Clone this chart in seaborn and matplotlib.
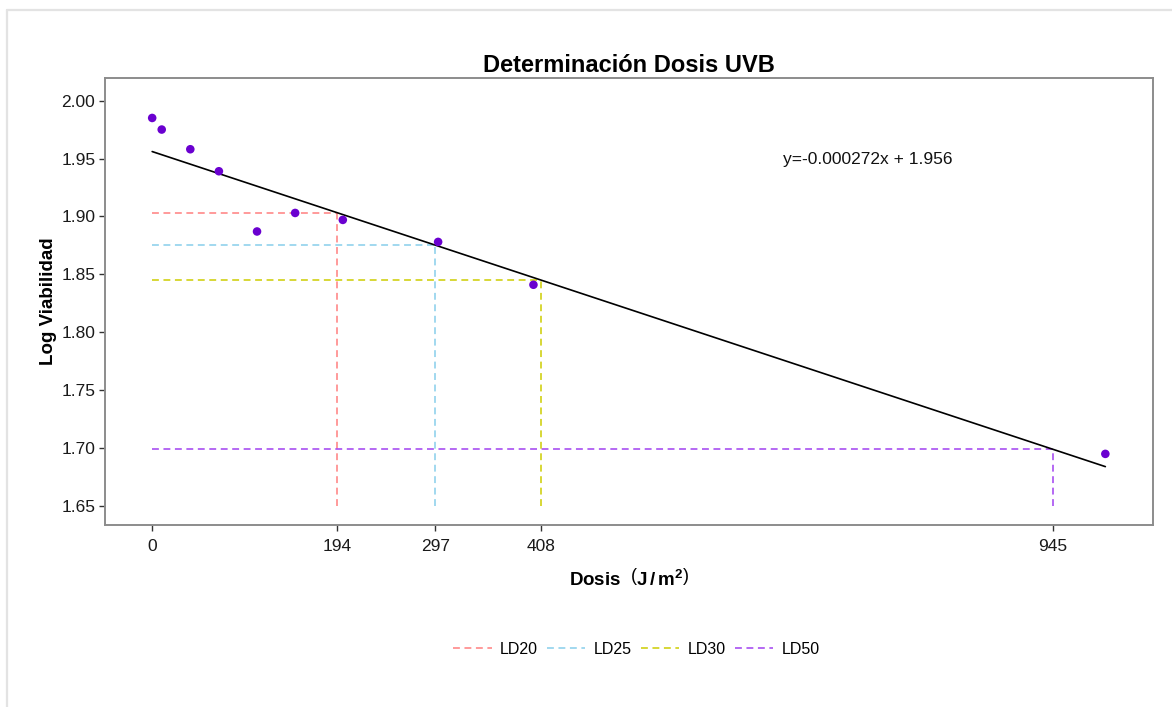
import numpy as np
import pandas as pd
import matplotlib
matplotlib.use("Agg")
import matplotlib.pyplot as plt
from matplotlib.lines import Line2D
import seaborn as sns

# ---- data ----
dosis = [0, 10, 40, 70, 110, 150, 200, 300, 400, 1000]
log_viab = [1.985, 1.975, 1.958, 1.939, 1.887, 1.903, 1.897, 1.878, 1.841, 1.695]
slope = -0.000272
intercept = 1.956
ld_names = ["LD20", "LD25", "LD30", "LD50"]
ld_dose = [194, 297, 408, 945]
ld_logv = [1.903, 1.875, 1.845, 1.699]
ld_colors = ["#FF7F7F", "#87CEEB", "#CDCD00", "#A040F0"]
x_ticks = [0, 194, 297, 408, 945]
y_ticks = [1.65, 1.70, 1.75, 1.80, 1.85, 1.90, 1.95, 2.00]
y_floor = 1.65

sns.set_theme(style="white")
plt.rcParams['font.family'] = ['Liberation Sans', 'DejaVu Sans']
plt.rcParams['text.color'] = 'black'
plt.rcParams['axes.labelcolor'] = 'black'
plt.rcParams['mathtext.fontset'] = 'custom'
plt.rcParams['mathtext.rm'] = 'Liberation Sans'
plt.rcParams['mathtext.bf'] = 'Liberation Sans:bold'
plt.rcParams['mathtext.it'] = 'Liberation Sans:bold'

fig = plt.figure(figsize=(11.72, 7.07), dpi=100)
ax = fig.add_axes([105/1172, 1-525/707, (1153-105)/1172, (525-78)/707])

df = pd.DataFrame({"Dosis": dosis, "LogV": log_viab})
fit = pd.DataFrame({"Dosis": [min(dosis), max(dosis)]})
fit["LogV"] = intercept + slope * fit["Dosis"]

dash = (4.5, 3)
for name, xd, yd, c in zip(ld_names, ld_dose, ld_logv, ld_colors):
    ax.plot([0, xd], [yd, yd], color=c, lw=1.1, dashes=dash, zorder=2)
    ax.plot([xd, xd], [y_floor, yd], color=c, lw=1.1, dashes=dash, zorder=2)

sns.lineplot(data=fit, x="Dosis", y="LogV", color="black", lw=1.2, ax=ax, zorder=3)
sns.scatterplot(data=df, x="Dosis", y="LogV", color="#6A00D0", s=38, edgecolor="none",
                ax=ax, zorder=4)

ax.text(751, 1.949, "y=-0.000272x + 1.956", ha="center", va="center", fontsize=12.5,
        color="#111111")

ax.set_xlim(-49.5, 1050)
ax.set_ylim(1.6336, 2.0195)
ax.set_xticks(x_ticks)
ax.set_xticklabels([str(v) for v in x_ticks])
ax.set_yticks(y_ticks)
ax.set_yticklabels([f"{v:.2f}" for v in y_ticks])
ax.tick_params(axis="both", which="both", length=4, width=1, color="#333333",
               labelsize=12.5, labelcolor="#1a1a1a", left=True, bottom=True)
ax.tick_params(axis="x", pad=6)
ax.tick_params(axis="y", pad=3)
for s in ax.spines.values():
    s.set_color("#8c8c8c")
    s.set_linewidth(1.4)

ax.set_title("Determinación Dosis UVB", fontsize=17, fontweight="bold", pad=4,
             color="black")
ax.set_xlabel(r"Dosis  $\left(\mathbf{J\,/\,m^{2}}\right)$", fontsize=13.5, fontweight="bold",
              labelpad=10)
ax.set_ylabel("Log Viabilidad", fontsize=13.5, fontweight="bold", labelpad=3)

handles = [Line2D([0], [0], color=c, lw=1.1, dashes=dash) for c in ld_colors]
fig.legend(handles, ld_names, loc="center", bbox_to_anchor=(0.543, 1-649/707), ncol=4,
           frameon=False, fontsize=11.5, handlelength=2.4, columnspacing=0.6,
           handletextpad=0.5)

# outer light frame
fig.add_artist(Line2D([7/1172, 7/1172], [0, 1-10/707], color="#e3e3e3", lw=1.6,
                      transform=fig.transFigure))
fig.add_artist(Line2D([7/1172, 1], [1-10/707, 1-10/707], color="#e3e3e3", lw=1.6,
                      transform=fig.transFigure))

fig.savefig("out.png", dpi=100)
